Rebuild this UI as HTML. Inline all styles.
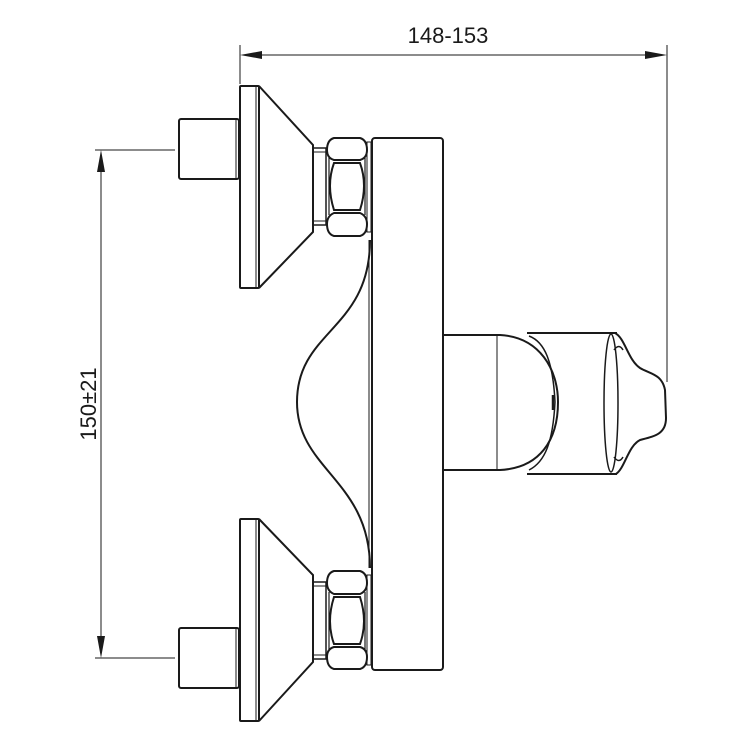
<!DOCTYPE html>
<html><head><meta charset="utf-8"><style>html,body{margin:0;padding:0;background:#fff}svg{display:block}</style></head><body>
<svg width="736" height="744" viewBox="0 0 736 744" xmlns="http://www.w3.org/2000/svg">
<defs>
<g id="fit" fill="none" stroke="#1a1a1a" stroke-width="2">
  <rect x="179" y="119" width="60" height="60" rx="2"/>
  <line x1="236" y1="120" x2="236" y2="178" stroke-width="1"/>
  <rect x="240" y="86" width="19" height="202" rx="1"/>
  <line x1="256" y1="87" x2="256" y2="287" stroke-width="1"/>
  <path d="M259,86 L313,145 L313,232 L259,288"/>
  <rect x="313" y="148" width="13" height="77" stroke-width="1.5"/>
  <line x1="313" y1="152" x2="326" y2="152" stroke-width="1"/>
  <line x1="313" y1="221" x2="326" y2="221" stroke-width="1"/>
  <path d="M334,138 L360,138 Q367,140 367,150 Q367,158 360,160 L334,160 Q327,158 327,150 Q327,140 334,138 Z"/>
  <path d="M334,236 L360,236 Q367,234 367,224 Q367,216 360,213 L334,213 Q327,216 327,224 Q327,234 334,236 Z"/>
  <path d="M334,163 L360,163 Q368,185 360,210 L334,210 Q326,185 334,163 Z"/>
  <line x1="329" y1="158" x2="329" y2="215" stroke-width="1.2"/>
  <line x1="365" y1="158" x2="365" y2="215" stroke-width="1.2"/>
  <rect x="367" y="142" width="4" height="90" stroke-width="1"/>
</g>
</defs>

<g stroke="#1a1a1a" stroke-width="1">
  <line x1="240" y1="45" x2="240" y2="84"/>
  <line x1="667" y1="45" x2="667" y2="382"/>
  <line x1="262" y1="55" x2="645" y2="55"/>
  <line x1="95" y1="150" x2="175" y2="150"/>
  <line x1="95" y1="658" x2="175" y2="658"/>
  <line x1="101" y1="172" x2="101" y2="636"/>
</g>
<path d="M240,55 L262,51 L262,59 Z M667,55 L645,51 L645,59 Z" fill="#1a1a1a"/>
<path d="M101,150 L97,172 L105,172 Z M101,658 L97,636 L105,636 Z" fill="#1a1a1a"/>
<text x="448" y="43" font-family="Liberation Sans, sans-serif" font-size="22" text-anchor="middle" fill="#1a1a1a">148-153</text>
<text transform="translate(96,404) rotate(-90)" font-family="Liberation Sans, sans-serif" font-size="22" text-anchor="middle" fill="#1a1a1a">150±21</text>

<use href="#fit"/>
<use href="#fit" transform="matrix(1,0,0,-1,0,807)"/>

<g fill="none" stroke="#1a1a1a" stroke-width="2">
  <rect x="372" y="138" width="71" height="532" rx="3"/>
  <line x1="369" y1="240" x2="369" y2="568" stroke-width="1"/>
  <path d="M370,240 C370,330 297,330 297,402 C297,470 370,480 370,568"/>
  <path d="M443,335 L500,335 C540,337 558,370 558,402 C558,440 540,468 500,470 L443,470"/>
  <line x1="497" y1="336" x2="497" y2="469" stroke-width="1"/>
  <path d="M529,336 C545,342 553,362 555,402 C553,442 545,462 529,470" stroke-width="1.5"/>
  <path d="M527,333 L617,333 M527,474 L617,474"/>
  <ellipse cx="611" cy="403" rx="7" ry="69" stroke-width="1.5"/>
  <path d="M615,333 C625,338 628,360 640,368 C650,374 662,374 665,390 L666,418 C666,434 655,436 640,440 C628,446 625,468 616,474"/>
  <path d="M614,350 Q619,343 623,350 M614,457 Q619,464 623,457" stroke-width="1.5"/>
  <path d="M553,395 L553,410" stroke-width="2.5"/>
</g>
</svg>
</body></html>
